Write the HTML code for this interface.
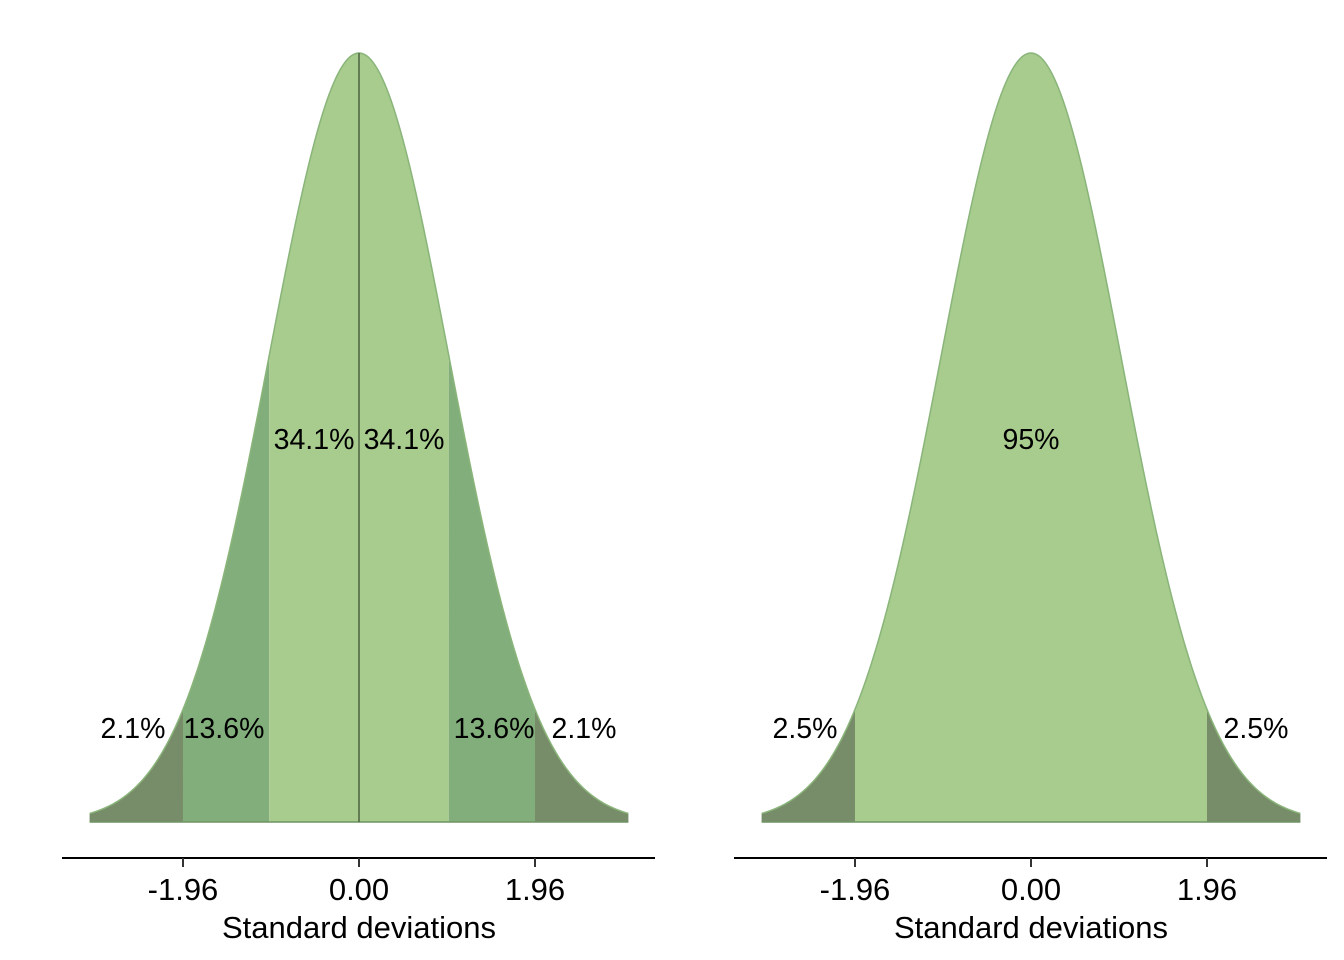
<!DOCTYPE html>
<html><head><style>body{margin:0;background:#fff}svg{display:block}text{font-family:"Liberation Sans",sans-serif;fill:#000}</style></head>
<body>
<svg id="s" width="1344" height="960" viewBox="0 0 1344 960" xmlns="http://www.w3.org/2000/svg"></svg>
<script>
const s=document.getElementById('s');let h='';
const SD=89.8,B=822,H=769;
function y(z){return B-H*Math.exp(-z*z/2);}
function area(cx,a,b,col){let d=`M${cx+a*SD},${B}`;for(let i=0;i<=200;i++){const z=a+(b-a)*i/200;d+=`L${(cx+z*SD).toFixed(2)},${y(z).toFixed(2)}`;}d+=`L${cx+b*SD},${B}Z`;h+=`<path d="${d}" fill="${col}"/>`;}
function outline(cx){let d='';for(let i=0;i<=400;i++){const z=-3+6*i/400;d+=(i?'L':'M')+(cx+z*SD).toFixed(2)+','+y(z).toFixed(2);}h+=`<path d="${d}" fill="none" stroke="#8ab57a" stroke-width="1.5"/><line x1="${cx-3*SD}" x2="${cx+3*SD}" y1="${B}" y2="${B}" stroke="#6f9462" stroke-width="1.5"/>`;}
const L='#a8cb8e',M='#82ae7c',D='#778c68';
let c=359;
area(c,-3,-1.96,D);area(c,-1.96,-1,M);area(c,-1,1,L);area(c,1,1.96,M);area(c,1.96,3,D);outline(c);
h+=`<line x1="${c}" x2="${c}" y1="${y(0)}" y2="${B}" stroke="#4b6340" stroke-width="1.5"/>`;
function axis(c,x1,x2){h+=`<line x1="${x1}" x2="${x2}" y1="858" y2="858" stroke="#000" stroke-width="2"/>`;
[-1.96,0,1.96].forEach((v,i)=>{const x=c+v*SD;h+=`<line x1="${x}" x2="${x}" y1="858" y2="867" stroke="#333" stroke-width="2"/><text x="${x}" y="900" font-size="31" text-anchor="middle">${['-1.96','0.00','1.96'][i]}</text>`;});
h+=`<text x="${c}" y="938" font-size="31" text-anchor="middle">Standard deviations</text>`;}
axis(c,62,655);
function t(x,yy,s){h+=`<text x="${x}" y="${yy}" font-size="28.5" text-anchor="middle">${s}</text>`;}
t(314,449,'34.1%');t(404,449,'34.1%');t(224,738,'13.6%');t(494,738,'13.6%');t(133,738,'2.1%');t(584,738,'2.1%');
c=1031;
area(c,-3,-1.96,D);area(c,-1.96,1.96,L);area(c,1.96,3,D);outline(c);
axis(c,734,1327);
t(1031,449,'95%');t(805,738,'2.5%');t(1256,738,'2.5%');
s.innerHTML=h;
</script>
</body></html>
